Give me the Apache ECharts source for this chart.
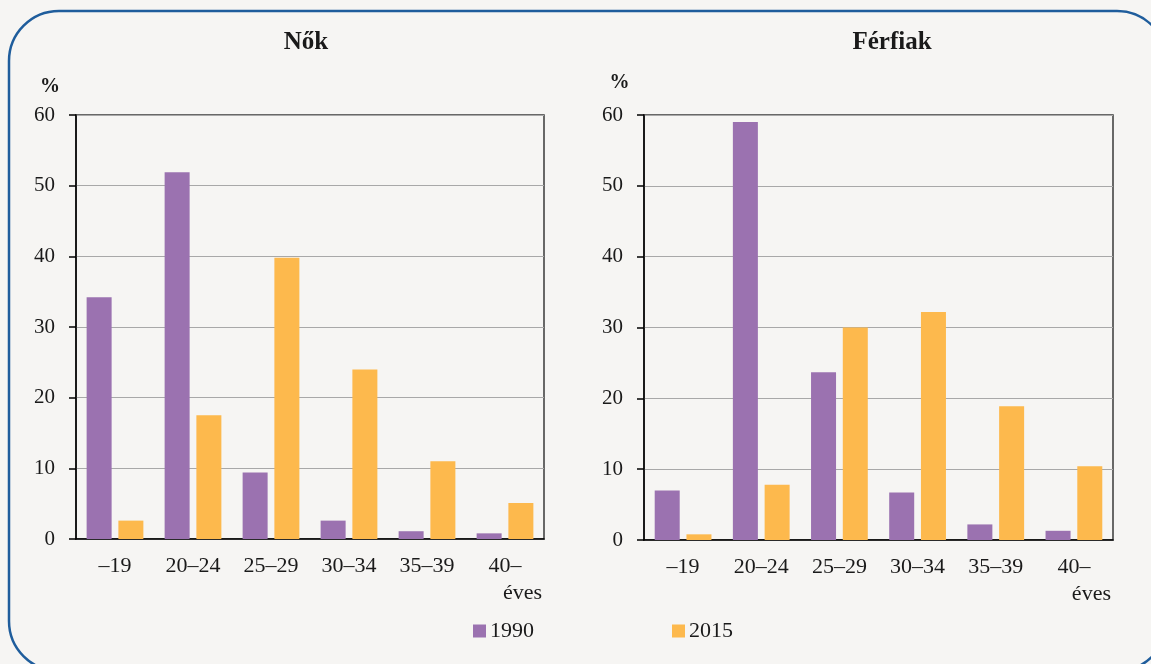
<!DOCTYPE html>
<html>
<head>
    <meta charset="utf-8">
    <title>Nők / Férfiak</title>
    <script src="https://cdn.jsdelivr.net/npm/echarts@6/dist/echarts.min.js"></script>
    <style>
        html, body { margin: 0; padding: 0; background: #f6f5f3; }
        #chart { width: 1151px; height: 664px; }
    </style>
</head>
<body>
<div id="chart"></div>
<script type="text/javascript">
    // korcsoportok
    var categories = ['–19', '20–24', '25–29', '30–34', '35–39', '40–'];
    var yTicks = [0, 10, 20, 30, 40, 50, 60];
    // Nők
    var women1990 = [34.2, 51.9, 9.4, 2.6, 1.1, 0.8];
    var women2015 = [2.6, 17.5, 39.8, 24.0, 11.0, 5.1];
    // Férfiak
    var men1990 = [7.0, 59.0, 23.7, 6.7, 2.2, 1.3];
    var men2015 = [0.8, 7.8, 30.0, 32.2, 18.9, 10.4];

    var FONT = '"Liberation Serif", "Times New Roman", serif';
    var PURPLE = '#9b72b0';
    var ORANGE = '#fdb94d';
    var TXT = '#1a1a1a';

    function xAxis(idx) {
        return {
            type: 'category', gridIndex: idx, data: categories,
            axisLine: { lineStyle: { color: '#000', width: 1.5 } },
            axisTick: { show: false },
            axisLabel: {
                interval: 0, color: TXT, fontFamily: FONT, fontSize: 22, lineHeight: 28, margin: 13,
                formatter: function (v) {
                    return v === '40–' ? '{a|40–}\n{b|éves}' : v;
                },
                rich: {
                    a: { fontFamily: FONT, fontSize: 22, color: TXT, lineHeight: 28 },
                    b: { fontFamily: FONT, fontSize: 22, color: TXT, lineHeight: 27, padding: [0, 0, 0, 35] }
                }
            }
        };
    }

    function yAxis(idx, gap, padRight) {
        return {
            type: 'value', gridIndex: idx, min: 0, max: 60, interval: 10,
            name: '%', nameLocation: 'end', nameGap: gap,
            nameTextStyle: { fontFamily: FONT, fontSize: 20, fontWeight: 'bold', color: TXT, padding: [0, padRight, 0, 0] },
            axisLine: { show: true, lineStyle: { color: '#000', width: 1.5 } },
            axisTick: { show: true, length: 7, lineStyle: { color: '#000', width: 1.5 } },
            splitLine: { lineStyle: { color: '#a8a8a8', width: 1 } },
            axisLabel: {
                color: TXT, fontFamily: FONT, fontSize: 21, margin: 21,
                formatter: function (v) { return yTicks.indexOf(v) >= 0 ? String(v) : ''; }
            }
        };
    }

    function bars(name, data, idx, color) {
        return {
            name: name, type: 'bar', xAxisIndex: idx, yAxisIndex: idx, data: data,
            barWidth: 25, barGap: '27%',
            itemStyle: { color: color },
            emphasis: { disabled: true }
        };
    }

    var chart = echarts.init(document.getElementById('chart'));
    chart.setOption({
        backgroundColor: '#f6f5f3',
        animation: false,
        graphic: [{
            type: 'rect', z: 0,
            shape: { x: 9, y: 11, width: 1158, height: 660, r: 50 },
            style: { fill: 'transparent', stroke: '#1f5d9c', lineWidth: 2.5 }
        }],
        title: [
            { text: 'Nők', left: 301, top: 25, textAlign: 'center',
              textStyle: { fontFamily: FONT, fontSize: 25, fontWeight: 'bold', color: TXT } },
            { text: 'Férfiak', left: 887, top: 25, textAlign: 'center',
              textStyle: { fontFamily: FONT, fontSize: 25, fontWeight: 'bold', color: TXT } }
        ],
        legend: {
            data: ['1990', '2015'], left: 473, top: 620, padding: 0,
            itemWidth: 13, itemHeight: 13, itemGap: 138,
            icon: 'rect',
            textStyle: { fontFamily: FONT, fontSize: 22, color: TXT, padding: [0, 0, 0, -1] },
            selectedMode: false
        },
        grid: [
            { left: 76, right: 607, top: 115, bottom: 125, show: true, borderColor: '#3a3a3a', borderWidth: 1.5, backgroundColor: 'transparent' },
            { left: 644, right: 38, top: 115, bottom: 124, show: true, borderColor: '#3a3a3a', borderWidth: 1.5, backgroundColor: 'transparent' }
        ],
        xAxis: [xAxis(0), xAxis(1)],
        yAxis: [yAxis(0, 18, 52), yAxis(1, 22, 49)],
        series: [
            bars('1990', women1990, 0, PURPLE),
            bars('2015', women2015, 0, ORANGE),
            bars('1990', men1990, 1, PURPLE),
            bars('2015', men2015, 1, ORANGE)
        ]
    });
</script>
</body>
</html>
